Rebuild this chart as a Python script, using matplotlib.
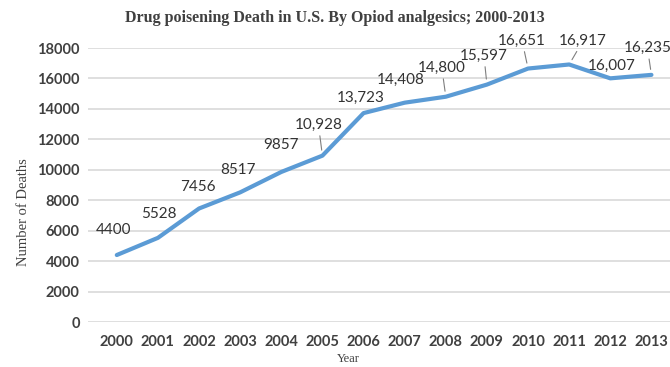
import matplotlib
matplotlib.use('Agg')
import matplotlib.pyplot as plt

# data
years = [2000, 2001, 2002, 2003, 2004, 2005, 2006, 2007, 2008, 2009, 2010, 2011, 2012, 2013]
deaths = [4400, 5528, 7456, 8517, 9857, 10928, 13723, 14408, 14800, 15597, 16651, 16917, 16007, 16235]
point_labels = ['4400', '5528', '7456', '8517', '9857', '10,928', '13,723', '14,408',
                '14,800', '15,597', '16,651', '16,917', '16,007', '16,235']

# label placement (pixel offsets from the point) and whether a leader line is drawn
label_offsets = [(-3, 25), (1, 24), (-1, 22), (-2, 22), (0, 27), (-4, 31), (-3, 15),
                 (-4, 23), (-4, 29), (-3, 29), (-6, 28), (14, 24), (1, 12), (-4, 27)]
leaders = [False, False, False, False, False, True, False,
           False, True, True, True, True, False, True]

LINE = '#5b9bd5'
TXT = '#404040'
GRID = '#d9d9d9'

fig = plt.figure(figsize=(6.7, 3.67), dpi=100)
ax = fig.add_axes([88 / 670, 1 - 322 / 367, (672 - 88) / 670, (322 - 48) / 367])

x = list(range(len(years)))
ax.plot(x, deaths, color=LINE, linewidth=3.0, solid_capstyle='round', zorder=3)

for i, (v, lab) in enumerate(zip(deaths, point_labels)):
    dx, dy = label_offsets[i]
    kw = {}
    if leaders[i]:
        kw['arrowprops'] = dict(arrowstyle='-', color='#7f7f7f', lw=0.8, shrinkA=1, shrinkB=4)
    ax.annotate(lab, (i, v), xytext=(dx, dy), textcoords='offset pixels',
                ha='center', va='center', fontsize=11, color='#333333',
                family='Lato', zorder=4, **kw)

ax.set_xlim(-0.7, 13.5)
ax.set_ylim(0, 18000)
ax.set_yticks(range(0, 18001, 2000))
ax.set_xticks(x)
ax.set_xticklabels([str(y) for y in years])
ax.grid(axis='y', color=GRID, linewidth=1.2)
ax.set_axisbelow(True)
for s in ax.spines.values():
    s.set_visible(False)
ax.tick_params(length=0, colors=TXT, labelsize=10.5)
ax.tick_params(axis='x', pad=9)
ax.tick_params(axis='y', pad=6)
for t in ax.get_xticklabels() + ax.get_yticklabels():
    t.set_fontweight('bold')
    t.set_family('Lato')
    t.set_color('#404040')

ax.set_ylabel('Number of Deaths', family='Liberation Serif', fontsize=10.5, color=TXT)
ax.yaxis.set_label_coords(-0.1, 0.4)
ax.set_xlabel('Year', family='Liberation Serif', fontsize=9, color=TXT)
ax.xaxis.set_label_coords(0.445, -0.112)

fig.text(0.5, 1 - 18 / 367, 'Drug poisening Death in U.S. By Opiod analgesics; 2000-2013',
         ha='center', va='center', family='Liberation Serif', fontsize=11.5,
         fontweight='bold', color=TXT)

fig.savefig('out.png', dpi=100)
